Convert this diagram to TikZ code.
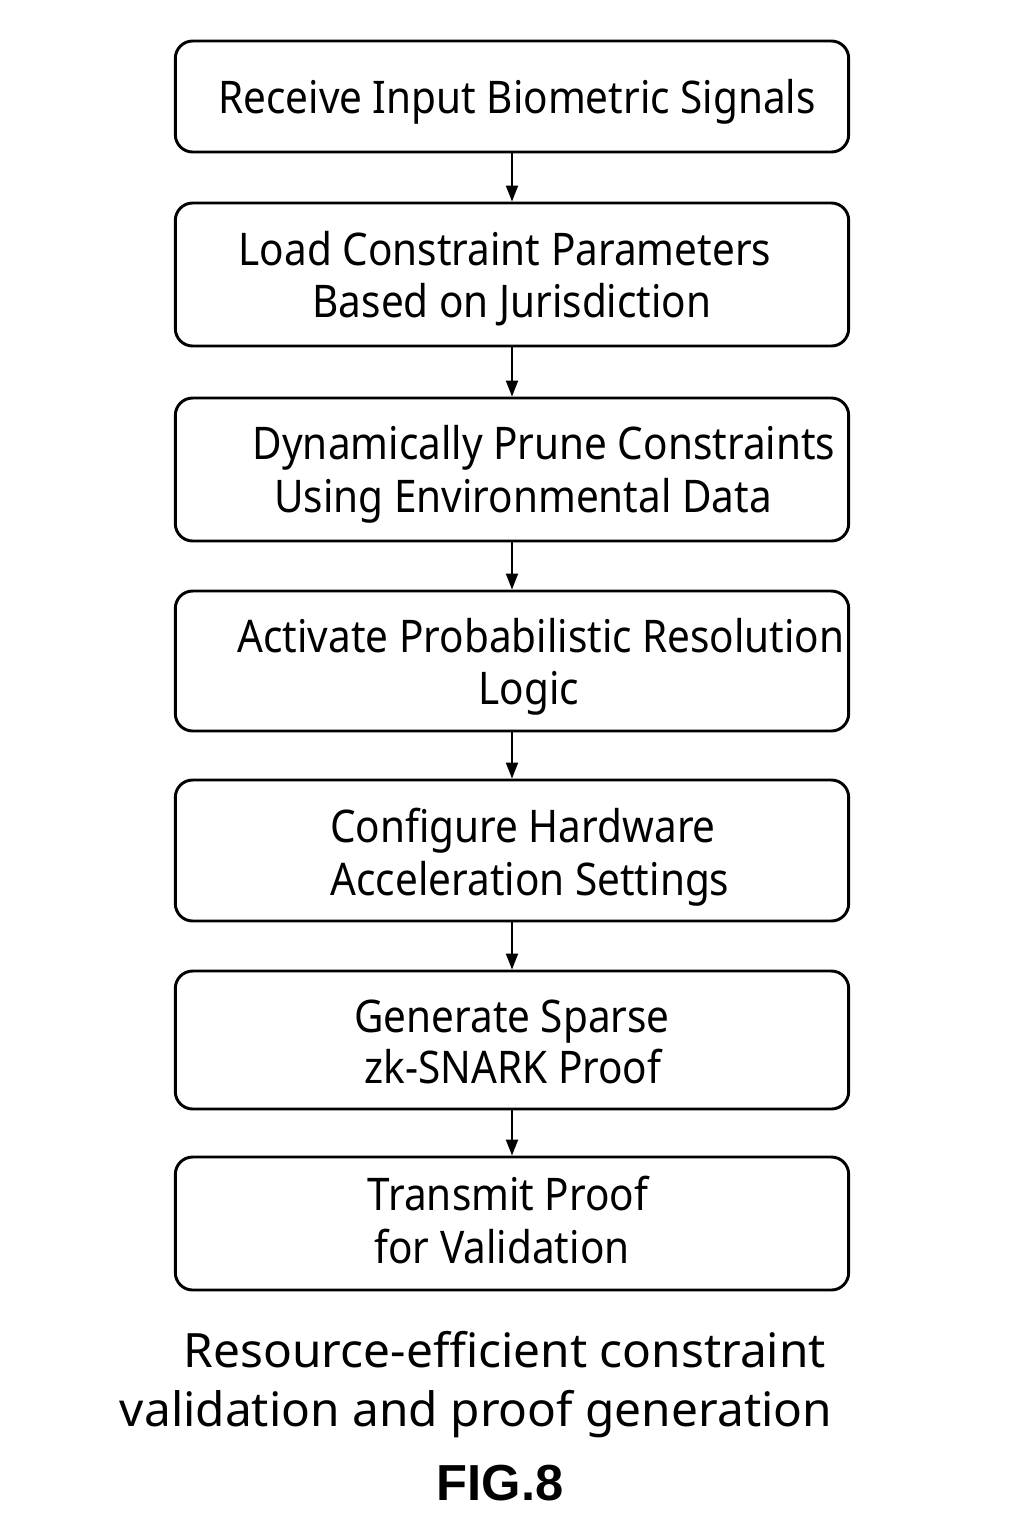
\documentclass[tikz,border=0pt]{standalone}
\usepackage{fontspec}
\setmainfont{Noto Sans}
\newfontfamily\boxfont[FakeStretch=0.9]{Noto Sans}
\newfontfamily\capfont[FakeStretch=1.01]{Noto Sans}
\newfontfamily\figfont{Liberation Sans}
\usetikzlibrary{arrows.meta}
\begin{document}
\begin{tikzpicture}[x=0.75pt,y=-0.75pt,
  stepbox/.style={draw=black,line width=2.2pt,rounded corners=13pt,minimum width=505pt,inner sep=0pt},
  boxtxt/.style={anchor=base,inner sep=0pt,font=\boxfont\fontsize{33.75}{39}\selectfont},
  captxt/.style={anchor=base,inner sep=0pt,font=\capfont\fontsize{35.5}{42}\selectfont},
  figtxt/.style={anchor=base,inner sep=0pt,font=\figfont\bfseries\fontsize{38}{44}\selectfont},
  flow/.style={line width=1.5pt,-{Triangle[length=12pt,width=9pt]}}]
\useasboundingbox (0,0) rectangle (1024,1536);
\fill[white] (0,0) rectangle (1024,1536);
\node[stepbox,minimum height=83.25pt] (b1) at (512,96.5) {};
\node[stepbox,minimum height=107.25pt] (b2) at (512,274.5) {};
\node[stepbox,minimum height=107.25pt] (b3) at (512,469.5) {};
\node[stepbox,minimum height=105pt] (b4) at (512,661) {};
\node[stepbox,minimum height=105.75pt] (b5) at (512,850.5) {};
\node[stepbox,minimum height=103.5pt] (b6) at (512,1040) {};
\node[stepbox,minimum height=99.75pt] (b7) at (512,1223.5) {};
\node[boxtxt] (t1) at (517,113) {Receive Input Biometric Signals};
\node[boxtxt] (t2a) at (505,265) {Load Constraint Parameters};
\node[boxtxt] (t2b) at (512,317) {Based on Jurisdiction};
\node[boxtxt] (t3a) at (544,459) {Dynamically Prune Constraints};
\node[boxtxt] (t3b) at (523,512) {Using Environmental Data};
\node[boxtxt] (t4a) at (541,652) {Activate Probabilistic Resolution};
\node[boxtxt] (t4b) at (529,704) {Logic};
\node[boxtxt] (t5a) at (523,842) {Configure Hardware};
\node[boxtxt] (t5b) at (530,895) {Acceleration Settings};
\node[boxtxt] (t6a) at (512,1032) {Generate Sparse};
\node[boxtxt] (t6b) at (513,1083) {zk-SNARK Proof};
\node[boxtxt] (t7a) at (508,1210) {Transmit Proof};
\node[boxtxt] (t7b) at (502,1263) {for Validation};
\node[captxt] (c1) at (505,1367) {Resource-efficient constraint};
\node[captxt] (c2) at (476,1426) {validation and proof generation};
\node[figtxt] (fig) at (500,1500) {FIG.8};
\foreach \a/\b in {b1/b2,b2/b3,b3/b4,b4/b5,b5/b6,b6/b7}
  \draw[flow] (\a.south) -- (\b.north);
\end{tikzpicture}
\end{document}
